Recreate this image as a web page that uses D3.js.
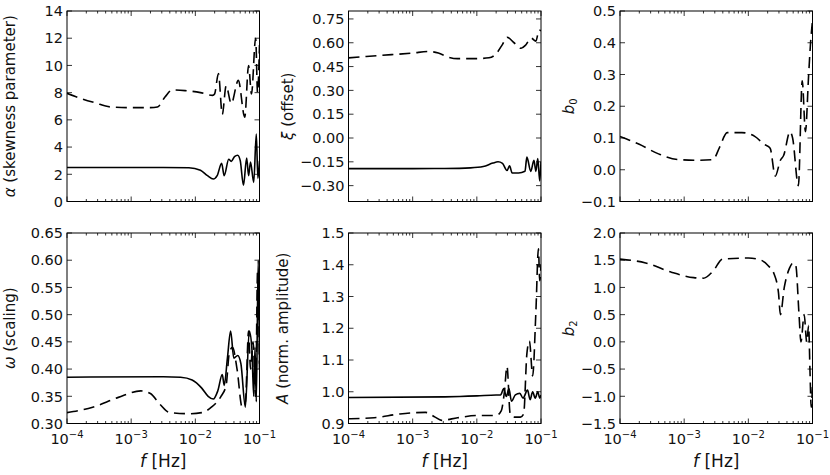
<!DOCTYPE html>
<html><head><meta charset="utf-8">
<script src="https://cdn.jsdelivr.net/npm/d3@7"></script>
<style>
body{margin:0;background:#fff;}
text{font-family:"DejaVu Sans",sans-serif;fill:#111;}
</style></head>
<body><svg id="c" width="830" height="475"></svg>
<script>
// ---- DATA (frequency given as log10(f / Hz)) ----
const xTickExps = [-4, -3, -2, -1];

// alpha (skewness parameter)
const alphaSolidLog = [-4.0,-3.0,-2.5,-2.1,-1.92,-1.81,-1.72,-1.66,-1.59,-1.55,-1.48,-1.44,-1.39,-1.34,-1.30,-1.25,-1.20,-1.17,-1.14,-1.09,-1.05,-1.025,-1.0];
const alphaSolidVal = [2.5,2.5,2.5,2.48,2.3,1.9,1.65,1.9,2.8,1.9,3.1,2.95,3.3,3.4,3.0,1.2,3.2,1.9,2.9,1.4,4.95,1.7,3.0];
const alphaDashLog = [-4.0,-3.8,-3.56,-3.33,-3.02,-2.70,-2.59,-2.47,-2.36,-2.16,-1.92,-1.73,-1.70,-1.64,-1.58,-1.52,-1.44,-1.33,-1.23,-1.17,-1.125,-1.06,-1.03,-1.0];
const alphaDashVal = [7.95,7.6,7.25,6.95,6.9,6.9,6.95,7.7,8.2,8.15,8.0,7.8,7.9,9.4,6.4,8.5,7.2,8.9,6.2,10.0,7.9,12.0,8.0,11.5];
const alphaTicks = [0,2,4,6,8,10,12,14];

// xi (offset)
const xiSolidLog = [-4.0,-3.0,-2.5,-2.1,-1.9,-1.75,-1.67,-1.6,-1.53,-1.49,-1.45,-1.35,-1.25,-1.22,-1.16,-1.11,-1.08,-1.05,-1.02,-1.0];
const xiSolidVal = [-0.193,-0.193,-0.192,-0.188,-0.18,-0.158,-0.15,-0.16,-0.205,-0.175,-0.22,-0.22,-0.21,-0.12,-0.21,-0.14,-0.21,-0.13,-0.27,-0.15];
const xiDashLog = [-4.0,-3.5,-3.0,-2.75,-2.6,-2.45,-2.3,-2.0,-1.81,-1.70,-1.60,-1.53,-1.42,-1.31,-1.24,-1.155,-1.08,-1.03,-1.0];
const xiDashVal = [0.505,0.52,0.535,0.545,0.535,0.51,0.50,0.50,0.505,0.53,0.59,0.635,0.60,0.565,0.585,0.63,0.61,0.68,0.675];
const xiTicks = [-0.30,-0.15,0.00,0.15,0.30,0.45,0.60,0.75];

// b0
const b0DashLog = [-4.0,-3.7,-3.4,-3.1,-2.8,-2.55,-2.45,-2.33,-2.1,-1.9,-1.75,-1.66,-1.58,-1.50,-1.45,-1.35,-1.31,-1.22,-1.16,-1.11,-1.06,-1.03,-1.0];
const b0DashVal = [0.105,0.08,0.05,0.032,0.03,0.032,0.07,0.117,0.117,0.105,0.08,0.068,-0.02,0.03,0.045,0.12,0.10,-0.05,0.28,0.12,0.30,0.40,0.47];
const b0Ticks = [-0.1,0.0,0.1,0.2,0.3,0.4,0.5];

// omega (scaling)
const omegaSolidLog = [-4.0,-2.5,-2.23,-2.05,-1.9,-1.8,-1.72,-1.65,-1.58,-1.55,-1.50,-1.45,-1.40,-1.34,-1.29,-1.22,-1.16,-1.12,-1.09,-1.07,-1.05,-1.02,-1.0];
const omegaSolidVal = [0.385,0.386,0.385,0.38,0.365,0.35,0.345,0.36,0.39,0.37,0.42,0.47,0.42,0.425,0.41,0.33,0.47,0.44,0.35,0.44,0.34,0.60,0.41];
const omegaDashLog = [-4.0,-3.6,-3.2,-2.85,-2.7,-2.55,-2.4,-2.1,-1.9,-1.75,-1.6,-1.52,-1.47,-1.42,-1.35,-1.27,-1.22,-1.17,-1.14,-1.10,-1.06,-1.03,-1.0];
const omegaDashVal = [0.32,0.33,0.348,0.36,0.355,0.335,0.32,0.318,0.32,0.33,0.35,0.37,0.43,0.44,0.40,0.33,0.34,0.47,0.40,0.45,0.35,0.58,0.40];
const omegaTicks = [0.30,0.35,0.40,0.45,0.50,0.55,0.60,0.65];

// A (norm. amplitude)
const ampSolidLog = [-4.0,-2.5,-2.0,-1.7,-1.63,-1.58,-1.54,-1.50,-1.46,-1.40,-1.33,-1.28,-1.21,-1.17,-1.13,-1.09,-1.05,-1.02,-1.0];
const ampSolidVal = [0.982,0.984,0.987,0.99,0.99,1.01,0.985,1.01,0.97,0.99,0.995,0.98,1.005,0.975,1.0,0.98,1.0,0.98,0.99];
const ampDashLog = [-4.0,-3.6,-3.2,-2.8,-2.65,-2.55,-2.3,-2.0,-1.7,-1.62,-1.57,-1.53,-1.48,-1.42,-1.32,-1.27,-1.22,-1.18,-1.13,-1.08,-1.04,-1.02,-1.0];
const ampDashVal = [0.915,0.918,0.93,0.935,0.92,0.91,0.918,0.925,0.925,0.94,1.0,1.08,0.93,0.92,0.92,0.93,1.12,1.16,1.05,1.25,1.45,1.35,1.40];
const ampTicks = [0.9,1.0,1.1,1.2,1.3,1.4,1.5];

// b2
const b2DashLog = [-4.0,-3.6,-3.2,-2.85,-2.7,-2.55,-2.4,-2.0,-1.8,-1.69,-1.6,-1.53,-1.5,-1.44,-1.36,-1.30,-1.26,-1.21,-1.18,-1.13,-1.09,-1.06,-1.04,-1.02,-1.0];
const b2DashVal = [1.52,1.45,1.28,1.18,1.17,1.3,1.52,1.54,1.5,1.4,1.25,0.9,0.5,1.0,1.35,1.45,1.4,0.5,0.0,0.5,0.0,0.3,-0.5,-1.2,-0.8];
const b2Ticks = [-1.5,-1.0,-0.5,0.0,0.5,1.0,1.5,2.0];

// ---- LAYOUT ----
const colX = [67, 348.5, 620];
const rowY = [11, 233];
const PW = 192.5, PH = 190.5;

const panels = [
  {c:0,r:0,ticks:alphaTicks,dec:0,label:[{t:"α",i:true},{t:" (skewness parameter)"}],
   series:[{lx:alphaSolidLog,v:alphaSolidVal,d:false},{lx:alphaDashLog,v:alphaDashVal,d:true}],lblX:15},
  {c:1,r:0,ticks:xiTicks,dec:2,dom:[-0.4,0.8],label:[{t:"ξ",i:true},{t:" (offset)"}],
   series:[{lx:xiSolidLog,v:xiSolidVal,d:false},{lx:xiDashLog,v:xiDashVal,d:true}],lblX:293},
  {c:2,r:0,ticks:b0Ticks,dec:1,label:[{t:"b",i:true},{t:"0",sub:true}],
   series:[{lx:b0DashLog,v:b0DashVal,d:true}],lblX:574},
  {c:0,r:1,ticks:omegaTicks,dec:2,label:[{t:"ω",i:true},{t:" (scaling)"}],
   series:[{lx:omegaSolidLog,v:omegaSolidVal,d:false},{lx:omegaDashLog,v:omegaDashVal,d:true}],lblX:15},
  {c:1,r:1,ticks:ampTicks,dec:1,label:[{t:"A",i:true},{t:" (norm. amplitude)"}],
   series:[{lx:ampSolidLog,v:ampSolidVal,d:false},{lx:ampDashLog,v:ampDashVal,d:true}],lblX:288},
  {c:2,r:1,ticks:b2Ticks,dec:1,label:[{t:"b",i:true},{t:"2",sub:true}],
   series:[{lx:b2DashLog,v:b2DashVal,d:true}],lblX:574},
];

const svg = d3.select("#c");
const fmtMinus = s => s.replace("-", "\u2212");

panels.forEach(p => {
  const x0 = colX[p.c], y0 = rowY[p.r];
  const x = d3.scaleLog().domain([1e-4, 1e-1]).range([x0, x0 + PW]);
  const dom = p.dom || [p.ticks[0], p.ticks[p.ticks.length - 1]];
  const y = d3.scaleLinear().domain(dom).range([y0 + PH, y0]);
  const g = svg.append("g");

  const cid = "clip" + p.c + p.r;
  svg.append("clipPath").attr("id", cid).append("rect")
    .attr("x", x0).attr("y", y0).attr("width", PW).attr("height", PH);

  const line = d3.line().x(d => x(d[0])).y(d => y(d[1])).curve(d3.curveMonotoneX);
  p.series.forEach(s => {
    const pts = s.lx.map((l, i) => [Math.pow(10, l), s.v[i]]);
    g.append("path").attr("d", line(pts)).attr("clip-path", `url(#${cid})`)
      .attr("fill", "none").attr("stroke", "#000").attr("stroke-width", 1.6)
      .attr("stroke-linejoin", "round")
      .attr("stroke-dasharray", s.d ? "11,6" : null);
  });

  const majors = xTickExps.map(e => Math.pow(10, e));
  const minors = [];
  for (let e = -4; e < -1; e++) for (let k = 2; k <= 9; k++) minors.push(k * Math.pow(10, e));
  const tk = g.append("g").attr("stroke", "#000").attr("stroke-width", 0.8);
  majors.forEach(v => {
    const xx = x(v);
    tk.append("line").attr("x1", xx).attr("x2", xx).attr("y1", y0 + PH).attr("y2", y0 + PH - 5);
    tk.append("line").attr("x1", xx).attr("x2", xx).attr("y1", y0).attr("y2", y0 + 5);
  });
  minors.forEach(v => {
    const xx = x(v);
    tk.append("line").attr("x1", xx).attr("x2", xx).attr("y1", y0 + PH).attr("y2", y0 + PH - 2.5);
    tk.append("line").attr("x1", xx).attr("x2", xx).attr("y1", y0).attr("y2", y0 + 2.5);
  });
  p.ticks.forEach(v => {
    const yy = y(v);
    tk.append("line").attr("x1", x0).attr("x2", x0 + 5).attr("y1", yy).attr("y2", yy);
    tk.append("line").attr("x1", x0 + PW).attr("x2", x0 + PW - 5).attr("y1", yy).attr("y2", yy);
    g.append("text").attr("x", x0 - 4).attr("y", yy).attr("dy", "0.36em")
      .attr("text-anchor", "end").attr("font-size", 14.5)
      .text(fmtMinus(v.toFixed(p.dec)));
  });

  g.append("rect").attr("x", x0).attr("y", y0).attr("width", PW).attr("height", PH)
    .attr("fill", "none").attr("stroke", "#000").attr("stroke-width", 1);

  if (p.r === 1) {
    xTickExps.forEach(e => {
      const t = g.append("text").attr("x", x(Math.pow(10, e))).attr("y", y0 + PH + 20)
        .attr("text-anchor", "middle").attr("font-size", 14.5);
      t.append("tspan").text("10");
      t.append("tspan").attr("dy", -6).attr("font-size", 10).text("\u2212" + Math.abs(e));
    });
    const xl = g.append("text").attr("x", x0 + PW / 2).attr("y", y0 + PH + 43)
      .attr("text-anchor", "middle").attr("font-size", 17);
    xl.append("tspan").attr("font-style", "italic").text("f");
    xl.append("tspan").text(" [Hz]");
  }

  const yl = g.append("text").attr("transform", `translate(${p.lblX},${y0 + PH / 2}) rotate(-90)`)
    .attr("text-anchor", "middle").attr("font-size", 15);
  p.label.forEach(part => {
    const ts = yl.append("tspan").text(part.t);
    if (part.i) ts.attr("font-style", "italic");
    if (part.sub) ts.attr("font-size", 10).attr("dy", 3);
  });
});
</script></body></html>
